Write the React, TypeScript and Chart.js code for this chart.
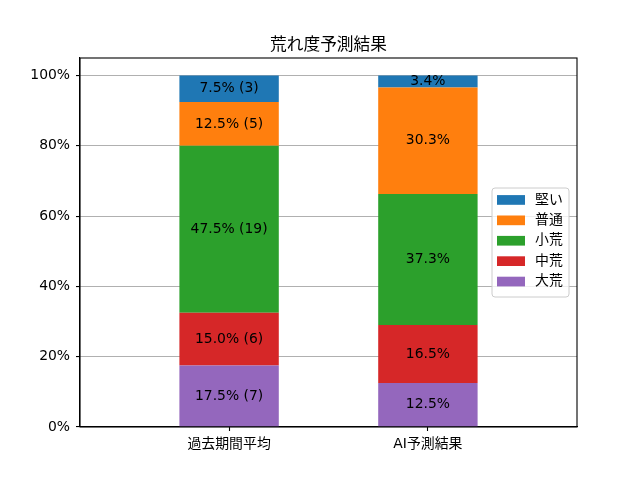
import { useEffect, useRef } from "react";
import { Chart, registerables } from "chart.js";

Chart.register(...registerables);

// categories on the x axis
const categories = ["過去期間平均", "AI予測結果"];

// series, bottom of the stack first
const seriesNames = ["大荒", "中荒", "小荒", "普通", "堅い"];
const daiAre = [17.5, 12.5];
const chuAre = [15.0, 16.5];
const shoAre = [47.5, 37.3];
const futsu = [12.5, 30.3];
const katai = [7.5, 3.4];
// race counts shown for the past-period column only
const pastCounts = [7, 6, 19, 5, 3];

const yTicks = [0, 20, 40, 60, 80, 100];

const titleText = "荒れ度予測結果";
const colors = ["#9467bd", "#d62728", "#2ca02c", "#ff7f0e", "#1f77b4"];
const FONT = "'DejaVu Sans', 'Noto Sans CJK JP', sans-serif";

const allSeries = [daiAre, chuAre, shoAre, futsu, katai];

// draws the percentage labels in the middle of each segment
const barLabels = {
  id: "barLabels",
  afterDatasetsDraw(chart: any) {
    const ctx = chart.ctx;
    ctx.save();
    ctx.font = `13.9px ${FONT}`;
    ctx.fillStyle = "#000";
    ctx.textAlign = "center";
    ctx.textBaseline = "middle";
    chart.data.datasets.forEach((ds: any, s: number) => {
      const meta = chart.getDatasetMeta(s);
      meta.data.forEach((bar: any, i: number) => {
        const v = allSeries[s][i];
        let txt = v.toFixed(1) + "%";
        if (i === 0) txt += ` (${pastCounts[s]})`;
        ctx.fillText(txt, bar.x, (bar.y + bar.base) / 2);
      });
    });
    ctx.restore();
  }
};

// title, top/right spines and the legend box inside the axes
const frameAndLegend = {
  id: "frameAndLegend",
  afterDraw(chart: any) {
    const ctx = chart.ctx;
    const a = chart.chartArea;
    ctx.save();
    ctx.strokeStyle = "#000";
    ctx.lineWidth = 1.1;
    ctx.strokeRect(a.left, a.top, a.right - a.left, a.bottom - a.top);

    ctx.fillStyle = "#000";
    ctx.font = `16.7px ${FONT}`;
    ctx.textAlign = "center";
    ctx.textBaseline = "alphabetic";
    ctx.fillText(titleText, (a.left + a.right) / 2, a.top - 8);

    // legend
    const bx = 492;
    const by = 188;
    const bw = 77;
    const bh = 109;
    ctx.fillStyle = "rgba(255,255,255,0.8)";
    ctx.strokeStyle = "#cccccc";
    ctx.lineWidth = 1;
    ctx.beginPath();
    ctx.roundRect(bx, by, bw, bh, 3);
    ctx.fill();
    ctx.stroke();

    ctx.font = `13.9px ${FONT}`;
    ctx.textAlign = "left";
    ctx.textBaseline = "middle";
    const order = seriesNames.map((_, i) => i).reverse();
    order.forEach((s, row) => {
      const cy = 200 + row * 20.4;
      ctx.fillStyle = colors[s];
      ctx.fillRect(497, cy - 4.9, 28, 9.7);
      ctx.fillStyle = "#000";
      ctx.fillText(seriesNames[s], 535, cy);
    });
    ctx.restore();
  }
};

export default function App() {
  const chartRef = useRef<HTMLCanvasElement>(null);
  const chartInstance = useRef<Chart | null>(null);

  useEffect(() => {
    if (!chartRef.current) return;
    if (chartInstance.current) chartInstance.current.destroy();
    const ctx = chartRef.current.getContext("2d");
    if (!ctx) return;

    chartInstance.current = new Chart(ctx, {
      type: "bar",
      data: {
        datasets: seriesNames.map((name, s) => ({
          label: name,
          data: allSeries[s].map((v, i) => ({ x: i, y: v })),
          backgroundColor: colors[s],
          borderWidth: 0,
          barPercentage: 0.5,
          categoryPercentage: 1
        }))
      },
      options: {
        responsive: false,
        animation: false,
        layout: { padding: { left: 0, right: 63, top: 58, bottom: 0 } },
        plugins: {
          legend: { display: false },
          tooltip: { enabled: false },
          title: { display: false }
        },
        scales: {
          x: {
            type: "linear",
            stacked: true,
            offset: false,
            min: -0.75,
            max: 1.75,
            afterBuildTicks: (scale: any) => {
              scale.ticks = categories.map((_, i) => ({ value: i }));
            },
            afterFit: (scale: any) => {
              scale.height = 53;
            },
            grid: {
              offset: false,
              drawOnChartArea: false,
              drawTicks: true,
              tickLength: 4,
              tickColor: "#000",
              tickWidth: 1.1
            },
            border: { display: true, color: "#000", width: 1.1 },
            ticks: {
              color: "#000",
              padding: 5,
              maxRotation: 0,
              font: { family: FONT, size: 13.9 },
              callback: (v: any) => categories[v] ?? ""
            }
          },
          y: {
            stacked: true,
            min: 0,
            max: 105,
            afterBuildTicks: (scale: any) => {
              scale.ticks = yTicks.map((v) => ({ value: v }));
            },
            afterFit: (scale: any) => {
              scale.width = 80;
            },
            grid: {
              color: "#b0b0b0",
              lineWidth: 1.1,
              tickLength: 4,
              tickColor: "#000",
              tickWidth: 1.1
            },
            border: { display: true, color: "#000", width: 1.1 },
            ticks: {
              color: "#000",
              padding: 6,
              font: { family: FONT, size: 13.9 },
              callback: (v: any) => `${v}%`
            }
          }
        }
      },
      plugins: [barLabels, frameAndLegend]
    });

    return () => {
      if (chartInstance.current) {
        chartInstance.current.destroy();
        chartInstance.current = null;
      }
    };
  }, []);

  return (
    <div style={{ position: "absolute", left: 0, top: 0, width: 640, height: 480, background: "#fff" }}>
      <canvas ref={chartRef} width={640} height={480} />
    </div>
  );
}
